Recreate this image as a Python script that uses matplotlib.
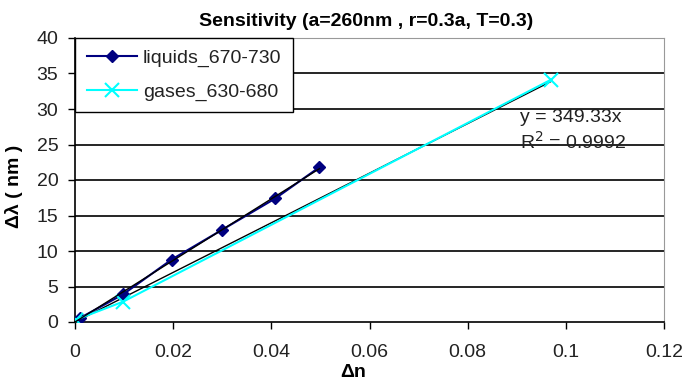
import numpy as np
import matplotlib
matplotlib.use("Agg")
import matplotlib.pyplot as plt

plt.rcParams['font.family'] = ['Liberation Sans', 'DejaVu Sans']

# sensitivity data: index change vs. resonance shift
liquids_dn = [0.001, 0.0098, 0.0197, 0.030, 0.0408, 0.0498]
liquids_dl = [0.55, 3.9, 8.8, 13.0, 17.4, 21.8]
gases_dn = [0.0003, 0.0098, 0.0969]
gases_dl = [0.35, 2.86, 34.1]
gases_slope = 349.33
gases_r2 = 0.9992

x_ticks = [0, 0.02, 0.04, 0.06, 0.08, 0.1, 0.12]
x_tick_labels = ["0", "0.02", "0.04", "0.06", "0.08", "0.1", "0.12"]
y_ticks = [0, 5, 10, 15, 20, 25, 30, 35, 40]

W, H = 686, 382
fig = plt.figure(figsize=(W / 100, H / 100), dpi=100)
ax = fig.add_axes([75 / W, 60 / H, 589 / W, 284 / H])

for y in y_ticks[1:-1]:
    ax.axhline(y, color='black', lw=1.2, zorder=1)

# linear fits through the origin (black trendlines)
ld = np.array(liquids_dn)
liquids_slope = np.sum(ld * np.array(liquids_dl)) / np.sum(ld * ld)
ax.plot([0, max(liquids_dn)], [0, liquids_slope * max(liquids_dn)], color='black', lw=1.0, zorder=4)
ax.plot([0, max(gases_dn)], [0, gases_slope * max(gases_dn)], color='black', lw=1.0, zorder=2)

ax.plot(liquids_dn, liquids_dl, color='#000080', marker='D', ms=6.5, lw=1.5,
        label='liquids_670-730', zorder=3)
ax.plot(gases_dn, gases_dl, color='#00FFFF', marker='x', ms=10, mew=1.5, lw=1.5,
        label='gases_630-680', zorder=3)

ax.set_xlim(0, 0.12)
ax.set_ylim(0, 40)
ax.set_xticks(x_ticks)
ax.set_xticklabels(x_tick_labels)
ax.set_yticks(y_ticks)
ax.tick_params(direction='out', length=5, width=1, labelsize=14, colors='black')
ax.tick_params(axis='x', pad=11)
ax.tick_params(axis='y', pad=7)
for lbl in ax.get_xticklabels() + ax.get_yticklabels():
    lbl.set_color('#222222')

ax.spines['left'].set_color('black')
ax.spines['bottom'].set_color('black')
ax.spines['left'].set_linewidth(1.2)
ax.spines['bottom'].set_linewidth(1.2)
ax.spines['right'].set_color('#999999')
ax.spines['top'].set_color('#999999')

ax.text(0.0907, 30.0, f"y = {gases_slope:.2f}x\nR$^2$ = {gases_r2:.4f}", fontsize=14,
        ha='left', va='top', linespacing=1.25, color='#222222')

leg = ax.legend(loc='upper left', bbox_to_anchor=(0, 1), borderaxespad=0,
                fancybox=False, edgecolor='black', fontsize=14, handlelength=2.6,
                handletextpad=0.3, framealpha=1, borderpad=0.6, labelspacing=0.8)
leg.get_frame().set_linewidth(1.0)
for t in leg.get_texts():
    t.set_color('#222222')

fig.text(366 / W, 1 - 26 / H, "Sensitivity (a=260nm , r=0.3a, T=0.3)",
         fontsize=14, fontweight='bold', ha='center', va='baseline')
fig.text(14 / W, 1 - 186 / H, "Δλ ( nm )", fontsize=14, fontweight='bold',
         rotation=90, ha='center', va='center')
fig.text(353 / W, 1 / H, "Δn", fontsize=14, fontweight='bold',
         ha='center', va='bottom')

fig.savefig("out.png", dpi=100)
